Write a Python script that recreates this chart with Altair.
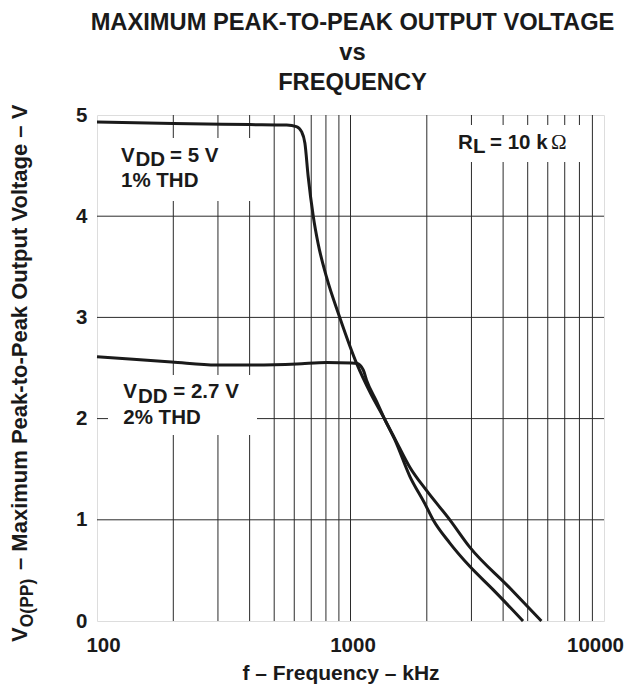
import altair as alt
import pandas as pd

# ---- data ----
freq_5v = [100, 200, 400, 560, 612, 641, 661, 681, 713, 745, 804, 907, 1057, 1200, 1360, 1497, 1714, 1964, 2117, 2465, 2954, 3650, 4795]
volt_5v = [4.93, 4.915, 4.905, 4.90, 4.885, 4.835, 4.72, 4.39, 4.0, 3.73, 3.40, 3.0, 2.546, 2.25, 2.0, 1.79, 1.43, 1.16, 1.0, 0.77, 0.54, 0.31, 0.0]

freq_27v = [100, 197, 296, 402, 614, 805, 1009, 1057, 1123, 1157, 1267, 1360, 1497, 1714, 1994, 2465, 2954, 4199, 5662]
volt_27v = [2.61, 2.56, 2.53, 2.53, 2.54, 2.555, 2.55, 2.546, 2.48, 2.38, 2.17, 2.0, 1.80, 1.52, 1.29, 1.0, 0.73, 0.34, 0.0]

grid_freqs = [200, 300, 400, 500, 600, 700, 800, 900, 1000,
              2000, 3000, 4000, 5000, 6000, 7000, 8000, 9000]
grid_volts = [1, 2, 3, 4]
x_ticks = [100, 1000, 10000]
y_ticks = [0, 1, 2, 3, 4, 5]

title_lines = ["MAXIMUM PEAK-TO-PEAK OUTPUT VOLTAGE", "vs", "FREQUENCY"]

FONT = "Liberation Sans"

curves = pd.DataFrame(
    {"f": freq_5v + freq_27v,
     "v": volt_5v + volt_27v,
     "series": ["5V"] * len(freq_5v) + ["2.7V"] * len(freq_27v)}
)

xscale = alt.Scale(type="log", domain=[100, 10000], nice=False)
yscale = alt.Scale(domain=[0, 5], nice=False)

W, H = 507, 506

base = alt.Chart(curves)

# gridlines
vgrid = alt.Chart(pd.DataFrame({"f": grid_freqs})).mark_rule(
    color="#2b2b2b", strokeWidth=1
).encode(x=alt.X("f:Q", scale=xscale))
hgrid = alt.Chart(pd.DataFrame({"v": grid_volts})).mark_rule(
    color="#2b2b2b", strokeWidth=1
).encode(y=alt.Y("v:Q", scale=yscale))

# white label backgrounds (break the grid as in the reference)
def box(x1, x2, y1, y2):
    return alt.Chart(pd.DataFrame({"a": [0]})).mark_rect(color="white").encode(
        x=alt.value(x1), x2=alt.value(x2), y=alt.value(y1), y2=alt.value(y2)
    )

boxes = [box(8, 168, 23, 86), box(352, 494, 10, 47), box(11, 160, 260, 320)]

lines = base.mark_line(strokeWidth=3, color="#1a1a1a", interpolate="monotone").encode(
    x=alt.X(
        "f:Q", scale=xscale,
        axis=alt.Axis(
            values=x_ticks, grid=False, ticks=False, tickSize=0, domain=False,
            labelFont=FONT, labelFontSize=20.5, labelFontWeight="bold",
            labelColor="#1a1a1a", labelPadding=14, labelAngle=0,
            labelFlush=False,
            labelOffset={"condition": [
                {"test": "datum.value <= 100", "value": 6},
                {"test": "datum.value >= 10000", "value": -9}],
                "value": 2},
            format="d", title=None,
        ),
    ),
    y=alt.Y(
        "v:Q", scale=yscale,
        axis=alt.Axis(
            values=y_ticks, grid=False, ticks=False, tickSize=0, domain=False,
            labelFont=FONT, labelFontSize=20.5, labelFontWeight="bold",
            labelColor="#1a1a1a", labelPadding=10, format="d", title=None,
        ),
    ),
    detail="series:N",
)

def txt(s, x, y, size=20.5, weight="bold", font=FONT, align="left", angle=0, baseline="alphabetic"):
    kw = dict(text=s, font=font, fontSize=size, fontWeight=weight, align=align,
              baseline=baseline, color="#1a1a1a")
    if angle:
        kw["angle"] = angle
    return alt.Chart(pd.DataFrame({"a": [0]})).mark_text(**kw).encode(
        x=alt.value(x), y=alt.value(y)
    )

texts = [
    # title
    txt(title_lines[0], W / 2 + 2, -85.5, size=23.7, align="center"),
    txt(title_lines[1], W / 2 + 2, -55, size=23.7, align="center"),
    txt(title_lines[2], W / 2 + 2, -25, size=23.7, align="center"),
    # x axis title
    txt("f \u2013 Frequency \u2013 kHz", 244, 565, size=21, align="center"),
    # VDD = 5 V
    txt("V", 24, 46.7), txt("DD", 38.5, 51), txt("= 5 V", 73, 46.7),
    txt("1% THD", 24, 72.3),
    # VDD = 2.7 V
    txt("V", 26.3, 283.3), txt("DD", 41, 287.7), txt("= 2.7 V", 76.3, 283.3),
    txt("2% THD", 26.3, 309),
    # RL = 10 kOhm
    txt("R", 361, 34.3), txt("L", 376, 38.3), txt("= 10 k", 393, 34.3),
    txt("\u03a9", 454, 34.3, font="Liberation Serif", weight="normal", size=21),
    # y axis title, rotated
    txt("V", -70, 527, size=22, angle=270),
    txt("O(PP)", -64, 512.3, size=17.5, angle=270),
    txt("\u2013 Maximum Peak-to-Peak Output Voltage \u2013 V", -70, 455, size=22, angle=270),
]

chart = alt.layer(vgrid, hgrid, *boxes, lines, *texts).properties(
    width=W, height=H,
    autosize=alt.AutoSizeParams(type="none"),
    padding={"left": 89, "top": 107, "right": 29, "bottom": 63},
).configure_view(stroke="#1a1a1a", strokeWidth=2).configure(background="white")

chart.save("out.html", embed_options={"renderer": "svg", "actions": False})
